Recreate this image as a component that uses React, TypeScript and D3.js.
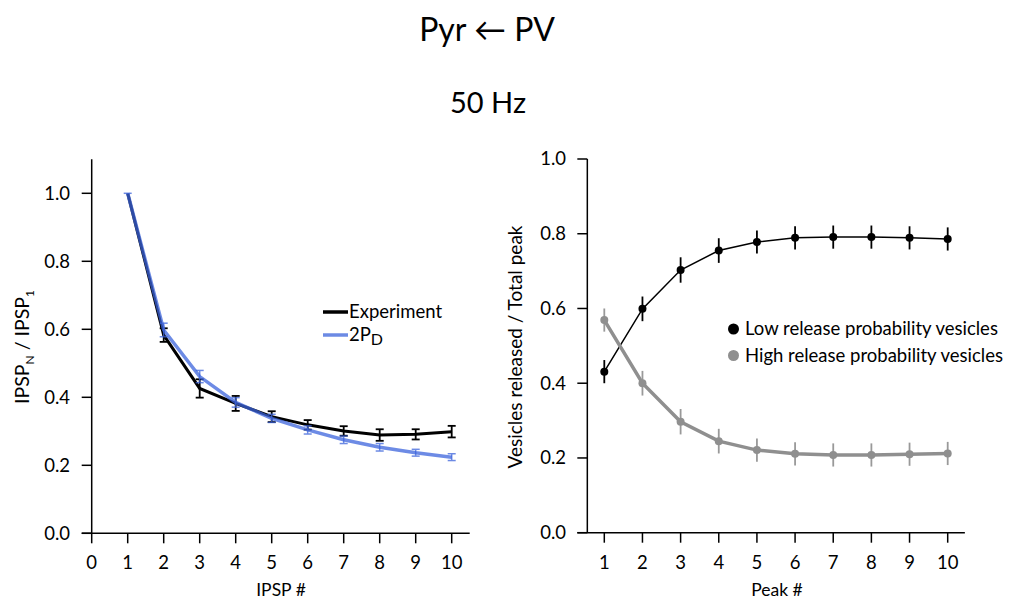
import React from "react";
import * as d3 from "d3";

const ipspIndex = [1, 2, 3, 4, 5, 6, 7, 8, 9, 10];
const experimentMean = [1.0, 0.583, 0.426, 0.382, 0.343, 0.319, 0.301, 0.289, 0.291, 0.299];
const experimentErr = [0.0, 0.02, 0.027, 0.022, 0.016, 0.014, 0.014, 0.017, 0.015, 0.017];
const model2PD = [1.0, 0.598, 0.461, 0.385, 0.338, 0.304, 0.275, 0.253, 0.237, 0.224];
const model2PDErr = [0.0, 0.02, 0.018, 0.014, 0.012, 0.012, 0.011, 0.011, 0.01, 0.01];

const peakIndex = [1, 2, 3, 4, 5, 6, 7, 8, 9, 10];
const lowRelease = [0.431, 0.599, 0.703, 0.755, 0.778, 0.789, 0.791, 0.791, 0.789, 0.786];
const lowReleaseErr = [0.031, 0.033, 0.034, 0.033, 0.031, 0.031, 0.031, 0.031, 0.031, 0.031];
const highRelease = [0.569, 0.4, 0.297, 0.245, 0.221, 0.211, 0.208, 0.208, 0.21, 0.212];
const highReleaseErr = [0.031, 0.033, 0.034, 0.033, 0.031, 0.031, 0.031, 0.031, 0.031, 0.031];

const leftXTicks = [0, 1, 2, 3, 4, 5, 6, 7, 8, 9, 10];
const yTicks = [0, 0.2, 0.4, 0.6, 0.8, 1.0];
const rightXTicks = [1, 2, 3, 4, 5, 6, 7, 8, 9, 10];

const FONT = "Lato, 'Open Sans', sans-serif";

export default function App() {
  // Left panel scales
  const lx = d3.scaleLinear().domain([0, 10]).range([91.7, 451.7]);
  const ly = d3.scaleLinear().domain([0, 1]).range([533.3, 193.3]);
  const lAxisTop = ly(1.1);
  const lAxisRight = lx(10.5);

  // Right panel scales
  const rx = d3.scaleLinear().domain([1, 10]).range([604.3, 947.7]);
  const ry = d3.scaleLinear().domain([0, 1]).range([532.7, 159]);
  const rAxisLeft = rx(0.555);
  const rAxisRight = rx(10.45);

  const lineL = d3
    .line<number>()
    .x((_, i) => lx(ipspIndex[i]))
    .y((d) => ly(d));
  const lineR = d3
    .line<number>()
    .x((_, i) => rx(peakIndex[i]))
    .y((d) => ry(d));

  const blue = "rgb(60,100,220)";
  const capW = 4;
  const tickFs = 18.5;

  return (
    <svg width={1010} height={600} style={{ position: "absolute", left: 0, top: 0, background: "#fff" }}>
      <rect width={1010} height={600} fill="#fff" />
      {/* Titles */}
      <text x={487} y={41} textAnchor="middle" fontFamily={FONT} fontSize={32} fill="#000">
        Pyr ← PV
      </text>
      <text x={488} y={113} textAnchor="middle" fontFamily={FONT} fontSize={29} fill="#000">
        50 Hz
      </text>

      {/* LEFT PANEL */}
      <g>
        <line x1={lx(0)} x2={lx(0)} y1={lAxisTop} y2={ly(0)} stroke="#000" strokeWidth={1.5} />
        <line x1={lx(0) - 10} x2={lAxisRight} y1={ly(0)} y2={ly(0)} stroke="#000" strokeWidth={1.5} />
        {yTicks.map((t) => (
          <g key={"ly" + t}>
            <line x1={lx(0) - 10} x2={lx(0)} y1={ly(t)} y2={ly(t)} stroke="#000" strokeWidth={1.5} />
            <text x={70} y={ly(t)} dy="0.35em" textAnchor="end" fontFamily={FONT} fontSize={tickFs}>
              {t.toFixed(1)}
            </text>
          </g>
        ))}
        {leftXTicks.map((t) => (
          <g key={"lx" + t}>
            <line x1={lx(t)} x2={lx(t)} y1={ly(0)} y2={ly(0) + 10} stroke="#000" strokeWidth={1.5} />
            <text x={lx(t)} y={563} dy="0.35em" textAnchor="middle" fontFamily={FONT} fontSize={tickFs}>
              {t}
            </text>
          </g>
        ))}
        <text x={281} y={590} dy="0.35em" textAnchor="middle" fontFamily={FONT} fontSize={17.5}>
          IPSP #
        </text>
        <text
          transform={`translate(22,347) rotate(-90)`}
          textAnchor="middle"
          dy="0.35em"
          fontFamily={FONT}
          fontSize={19.5}
        >
          IPSP<tspan fontSize={12} dy={5}>N</tspan>
          <tspan dy={-5}> / IPSP</tspan>
          <tspan fontSize={12} dy={5}>1</tspan>
        </text>

        {/* Experiment */}
        <path d={lineL(experimentMean) || ""} fill="none" stroke="#000" strokeWidth={3} />
        {experimentMean.map((m, i) => {
          const e = experimentErr[i];
          if (e <= 0) return null;
          const x = lx(ipspIndex[i]);
          return (
            <g key={"ee" + i} stroke="#000" strokeWidth={1.8}>
              <line x1={x} x2={x} y1={ly(m - e)} y2={ly(m + e)} />
              <line x1={x - capW} x2={x + capW} y1={ly(m - e)} y2={ly(m - e)} />
              <line x1={x - capW} x2={x + capW} y1={ly(m + e)} y2={ly(m + e)} />
            </g>
          );
        })}
        {/* 2PD model */}
        <g opacity={0.75}>
          <path d={lineL(model2PD) || ""} fill="none" stroke={blue} strokeWidth={3.5} />
        </g>
        {model2PD.map((m, i) => {
          const e = model2PDErr[i];
          const x = lx(ipspIndex[i]);
          if (e <= 0)
            return (
              <line key={"be" + i} x1={x - capW} x2={x + capW} y1={ly(m)} y2={ly(m)} stroke={blue} strokeWidth={1.5} opacity={0.75} />
            );
          return (
            <g key={"be" + i} stroke={blue} strokeWidth={1.5} opacity={0.75}>
              <line x1={x} x2={x} y1={ly(m - e)} y2={ly(m + e)} />
              <line x1={x - capW} x2={x + capW} y1={ly(m - e)} y2={ly(m - e)} />
              <line x1={x - capW} x2={x + capW} y1={ly(m + e)} y2={ly(m + e)} />
            </g>
          );
        })}

        {/* Legend */}
        <line x1={323} x2={348} y1={312} y2={312} stroke="#000" strokeWidth={3.5} />
        <text x={349} y={312} dy="0.35em" fontFamily={FONT} fontSize={18.5}>
          Experiment
        </text>
        <line x1={323} x2={348} y1={335} y2={335} stroke={blue} strokeWidth={3.5} opacity={0.75} />
        <text x={349} y={335} dy="0.35em" fontFamily={FONT} fontSize={18.5}>
          2P<tspan fontSize={16} dy={4}>D</tspan>
        </text>
      </g>

      {/* RIGHT PANEL */}
      <g>
        <line x1={rAxisLeft} x2={rAxisLeft} y1={ry(1)} y2={ry(0)} stroke="#000" strokeWidth={1.5} />
        <line x1={rAxisLeft - 10} x2={rAxisRight} y1={ry(0)} y2={ry(0)} stroke="#000" strokeWidth={1.5} />
        {yTicks.map((t) => (
          <g key={"ry" + t}>
            <line x1={rAxisLeft - 10} x2={rAxisLeft} y1={ry(t)} y2={ry(t)} stroke="#000" strokeWidth={1.5} />
            <text x={566} y={ry(t)} dy="0.35em" textAnchor="end" fontFamily={FONT} fontSize={tickFs}>
              {t.toFixed(1)}
            </text>
          </g>
        ))}
        {rightXTicks.map((t) => (
          <g key={"rx" + t}>
            <line x1={rx(t)} x2={rx(t)} y1={ry(0)} y2={ry(0) + 10} stroke="#000" strokeWidth={1.5} />
            <text x={rx(t)} y={563} dy="0.35em" textAnchor="middle" fontFamily={FONT} fontSize={tickFs}>
              {t}
            </text>
          </g>
        ))}
        <text x={777} y={590} dy="0.35em" textAnchor="middle" fontFamily={FONT} fontSize={17.5}>
          Peak #
        </text>
        <text
          transform={`translate(515,347) rotate(-90)`}
          textAnchor="middle"
          dy="0.35em"
          fontFamily={FONT}
          fontSize={19}
        >
          Vesicles released / Total peak
        </text>

        {/* Low release (black) */}
        <path d={lineR(lowRelease) || ""} fill="none" stroke="#000" strokeWidth={1.5} />
        {lowRelease.map((m, i) => {
          const e = lowReleaseErr[i];
          const x = rx(peakIndex[i]);
          return (
            <g key={"lr" + i}>
              <line x1={x} x2={x} y1={ry(m - e)} y2={ry(m + e)} stroke="#000" strokeWidth={1.8} />
              <circle cx={x} cy={ry(m)} r={4} fill="#000" />
            </g>
          );
        })}
        {/* High release (gray) */}
        <path d={lineR(highRelease) || ""} fill="none" stroke="#8f8f8f" strokeWidth={3.5} />
        {highRelease.map((m, i) => {
          const e = highReleaseErr[i];
          const x = rx(peakIndex[i]);
          return (
            <g key={"hr" + i}>
              <line x1={x} x2={x} y1={ry(m - e)} y2={ry(m + e)} stroke="#999" strokeWidth={1.8} />
              <circle cx={x} cy={ry(m)} r={4} fill="#8f8f8f" />
            </g>
          );
        })}

        {/* Legend */}
        <circle cx={733.5} cy={329} r={5.5} fill="#000" />
        <text x={745} y={329} dy="0.35em" fontFamily={FONT} fontSize={18.5}>
          Low release probability vesicles
        </text>
        <circle cx={733.5} cy={355.5} r={5.5} fill="#8f8f8f" />
        <text x={745} y={355.5} dy="0.35em" fontFamily={FONT} fontSize={18.5}>
          High release probability vesicles
        </text>
      </g>
    </svg>
  );
}
